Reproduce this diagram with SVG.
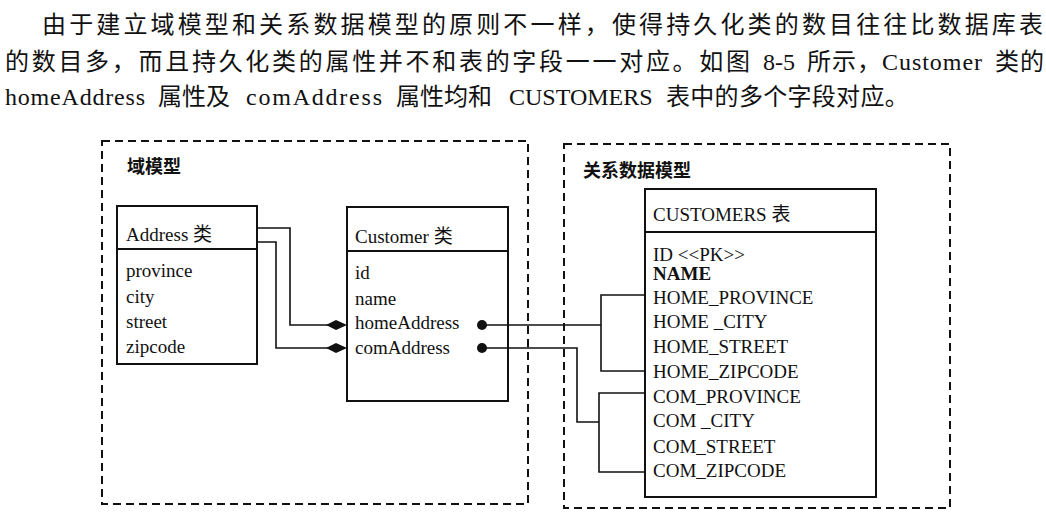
<svg xmlns="http://www.w3.org/2000/svg" width="1046" height="516" viewBox="0 0 1046 516">
<style>
.para{font-family:"Liberation Serif","Noto Sans CJK SC",serif;font-size:24px;fill:#111}
.t{font-family:"Liberation Serif","Noto Sans CJK SC",serif;font-size:19px;fill:#111}
.lbl{font-family:"Noto Sans CJK SC",sans-serif;font-size:18px;font-weight:bold;fill:#111}
.box{fill:#fff;stroke:#111;stroke-width:2}
.sep{stroke:#111;stroke-width:2}
.dash{fill:none;stroke:#111;stroke-width:2;stroke-dasharray:8 5}
.con{fill:none;stroke:#111;stroke-width:1.6}
.dot{fill:#111}
</style>
<rect width="1046" height="516" fill="#fff"/>
<g id="paragraph">
<text class="para" x="42" y="33" textLength="1001" lengthAdjust="spacing">由于建立域模型和关系数据模型的原则不一样，使得持久化类的数目往往比数据库表</text>
<text class="para" y="70"><tspan x="5" textLength="745" lengthAdjust="spacing">的数目多，而且持久化类的属性并不和表的字段一一对应。如图</tspan><tspan x="763">8-5</tspan><tspan x="807" letter-spacing="1">所示，</tspan><tspan x="882" textLength="100" lengthAdjust="spacing">Customer</tspan><tspan x="995" letter-spacing="1">类的</tspan></text>
<text class="para" y="105"><tspan x="5" textLength="140" lengthAdjust="spacing">homeAddress</tspan><tspan x="158">属性及</tspan><tspan x="246" textLength="136" lengthAdjust="spacing">comAddress</tspan><tspan x="396">属性均和</tspan><tspan x="509">CUSTOMERS</tspan><tspan x="666" letter-spacing="0.3">表中的多个字段对应。</tspan></text>
</g>
<g id="domain-model">
<rect class="dash" x="102" y="141" width="426" height="363"/>
<text class="lbl" x="127" y="173">域模型</text>
</g>
<g id="relational-model">
<rect class="dash" x="564" y="144" width="386" height="364"/>
<text class="lbl" x="583" y="177">关系数据模型</text>
</g>
<g id="address">
<rect class="box" x="117" y="206" width="140" height="158"/>
<line class="sep" x1="117" y1="249" x2="257" y2="249"/>
<text class="t" x="126" y="241">Address 类</text>
<text class="t" x="126" y="277">province</text>
<text class="t" x="126" y="303">city</text>
<text class="t" x="126" y="328">street</text>
<text class="t" x="126" y="353">zipcode</text>
</g>
<g id="customer">
<rect class="box" x="347" y="207" width="161" height="194"/>
<line class="sep" x1="347" y1="251" x2="508" y2="251"/>
<text class="t" x="355" y="243">Customer 类</text>
<text class="t" x="355" y="279">id</text>
<text class="t" x="355" y="305">name</text>
<text class="t" x="355" y="329">homeAddress</text>
<text class="t" x="355" y="354">comAddress</text>
</g>
<g id="customers-table">
<rect class="box" x="645" y="189" width="231" height="308"/>
<line class="sep" x1="645" y1="232" x2="876" y2="232"/>
<text class="t" x="653" y="221">CUSTOMERS 表</text>
<text class="t" x="653" y="261">ID &lt;&lt;PK&gt;&gt;</text>
<text class="t" x="653" y="280" font-weight="bold" font-size="17">NAME</text>
<text class="t" x="653" y="304">HOME_PROVINCE</text>
<text class="t" x="653" y="328">HOME _CITY</text>
<text class="t" x="653" y="353">HOME_STREET</text>
<text class="t" x="653" y="378">HOME_ZIPCODE</text>
<text class="t" x="653" y="403">COM_PROVINCE</text>
<text class="t" x="653" y="427">COM _CITY</text>
<text class="t" x="653" y="453">COM_STREET</text>
<text class="t" x="653" y="477">COM_ZIPCODE</text>
</g>
<g id="connectors">
<polyline class="con" points="257,228 290,228 290,325 330,325"/>
<polyline class="con" points="257,242 276,242 276,348 330,348"/>
<polygon class="dot" points="326,325 336,320 347,325 336,330"/>
<polygon class="dot" points="326,348 336,343 347,348 336,353"/>
<circle class="dot" cx="482" cy="325" r="5"/>
<circle class="dot" cx="482" cy="348" r="5"/>
<line class="con" x1="482" y1="325" x2="601" y2="325"/>
<polyline class="con" points="645,295 601,295 601,371 645,371"/>
<polyline class="con" points="482,348 577,348 577,422 599,422"/>
<polyline class="con" points="645,393 599,393 599,472 645,472"/>
</g>
</svg>
